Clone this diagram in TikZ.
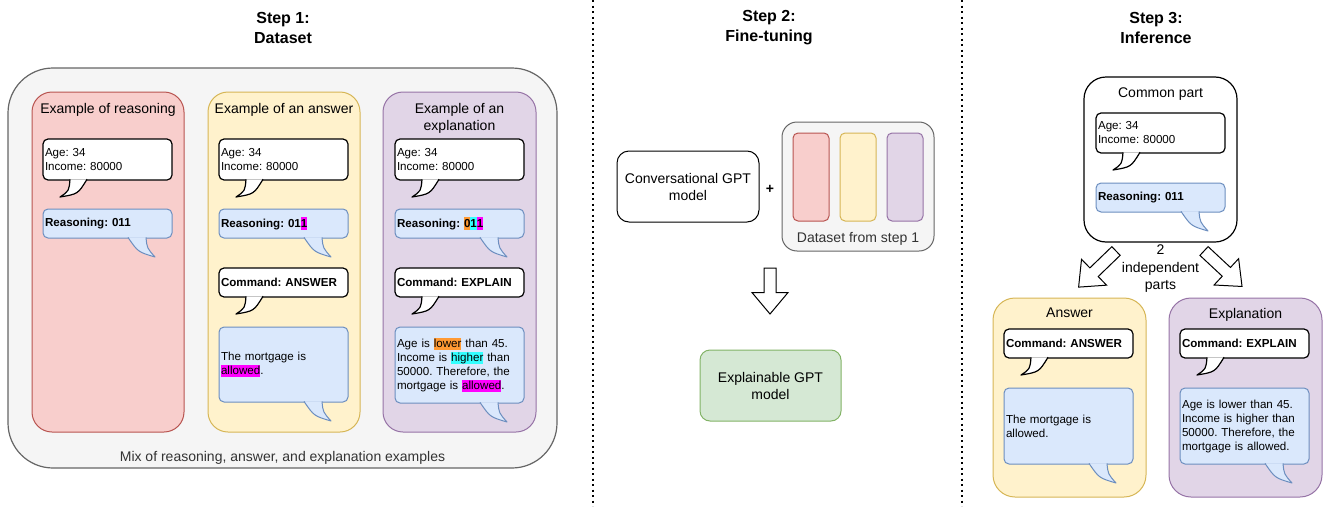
\documentclass[tikz,border=0pt]{standalone}
\usepackage{fontspec}
\setmainfont{Liberation Sans}
\usepackage{tikz}
\usetikzlibrary{positioning}
\usetikzlibrary{shapes.arrows}
\frenchspacing

\definecolor{rfill}{HTML}{F8CECC}
\definecolor{rline}{HTML}{B85450}
\definecolor{yfill}{HTML}{FFF2CC}
\definecolor{yline}{HTML}{D6B656}
\definecolor{pfill}{HTML}{E1D5E7}
\definecolor{pline}{HTML}{9673A6}
\definecolor{bfill}{HTML}{DAE8FC}
\definecolor{bline}{HTML}{6C8EBF}
\definecolor{gfill}{HTML}{D5E8D4}
\definecolor{gline}{HTML}{82B366}
\definecolor{grfill}{HTML}{F5F5F5}
\definecolor{grline}{HTML}{666666}
\definecolor{grtxt}{HTML}{333333}
\definecolor{hlo}{HTML}{FF9933}
\definecolor{hlc}{HTML}{33FFFF}
\definecolor{hlm}{HTML}{FF00FF}

\newcommand\smallf{\fontsize{11.6}{14}\selectfont}
\newcommand\midf{\fontsize{14}{17}\selectfont}
\newcommand\stepf{\fontsize{16}{20}\selectfont\bfseries}
\newcommand\hlt[2]{{\setlength\fboxsep{0pt}\colorbox{#1}{\rule[-2.8pt]{0pt}{12.6pt}#2}}}

% speech bubble tails: white ones point down-left, blue ones down-right
\newcommand\tailL[1]{%
  \path[fill=white, draw=black, line width=1.2pt, line join=round]
    ([shift={(27,-0.7)}]#1.south west)
    .. controls ([shift={(26,11)}]#1.south west) .. ([shift={(17,17)}]#1.south west)
    .. controls ([shift={(35,14)}]#1.south west) .. ([shift={(44,-0.7)}]#1.south west);}
\newcommand\tailR[1]{%
  \path[fill=bfill, draw=bline, line width=1pt, line join=round]
    ([shift={(-44,-0.6)}]#1.south east)
    .. controls ([shift={(-34,14)}]#1.south east) .. ([shift={(-17,19)}]#1.south east)
    .. controls ([shift={(-25,10)}]#1.south east) .. ([shift={(-26,-0.6)}]#1.south east);}

\begin{document}
\begin{tikzpicture}[x=1pt, y=-1pt, font=\midf, inner sep=0pt, outer sep=0pt,
  panel/.style={draw=#1line, fill=#1fill, line width=1pt, rounded corners=20pt,
                minimum width=152pt, minimum height=340pt},
  bub/.style={draw=black, fill=white, line width=1.2pt, rounded corners=5pt,
              text width=125pt, inner xsep=2pt, align=left, font=\smallf, minimum height=#1},
  bbub/.style={bub=#1, draw=bline, fill=bfill, line width=1pt},
  model/.style={draw=black, fill=white, line width=1pt, rounded corners=12pt,
                align=center, minimum width=142pt, minimum height=71pt},
  bigarrow/.style={single arrow, draw=black, fill=white, line width=1pt, inner sep=5.5pt,
                   minimum height=#1, single arrow head extend=12pt,
                   single arrow tip angle=80, anchor=tail},
  sep/.style={line width=2pt, dash pattern=on 2pt off 3.5pt}]
\useasboundingbox (0,0) rectangle (1330,506);

% separators
\draw[sep] (593,0) -- (593,506);
\draw[sep] (962,0) -- (962,506);

% step 1
\node[font=\stepf, align=center] (s1) at (283,28) {Step 1:\\Dataset};
\node[draw=grline, fill=grfill, line width=1.2pt, rounded corners=45pt,
      minimum width=549pt, minimum height=400pt] (ds) at (282.5,268) {};
\node[text=grtxt, above=3.5pt of ds.south] (ds_cap) {Mix of reasoning, answer, and explanation examples};

\node[panel=r] (r_box) at (108,262) {};
\node[below=11pt of r_box.north] (r_title) {Example of reasoning};
\node[bub=41pt, anchor=north west] (r_age) at (43,139) {Age: 34\\Income: 80000};
\tailL{r_age}
\node[bbub=29pt, below=29pt of r_age] (r_reas) {\textbf{Reasoning: 011}};
\tailR{r_reas}

\node[panel=y] (y_box) at (284,262) {};
\node[below=11pt of y_box.north] (y_title) {Example of an answer};
\node[bub=41pt, anchor=north west] (y_age) at (219,139) {Age: 34\\Income: 80000};
\tailL{y_age}
\node[bbub=29pt, below=29pt of y_age] (y_reas) {\textbf{Reasoning: 01\hlt{hlm}{1}}};
\tailR{y_reas}
\node[bub=29pt, below=30pt of y_reas] (y_cmd) {\textbf{Command: ANSWER}};
\tailL{y_cmd}
\node[bbub=75pt, below=30pt of y_cmd] (y_ans) {The mortgage is\\\hlt{hlm}{allowed}.};
\tailR{y_ans}

\node[panel=p, minimum width=153pt] (p_box) at (459.5,262) {};
\node[below=11pt of p_box.north, align=center] (p_title) {Example of an\\explanation};
\node[bub=41pt, anchor=north west] (p_age) at (395,139) {Age: 34\\Income: 80000};
\tailL{p_age}
\node[bbub=29pt, below=29pt of p_age] (p_reas) {\textbf{Reasoning: \hlt{hlo}{0}\hlt{hlc}{1}\hlt{hlm}{1}}};
\tailR{p_reas}
\node[bub=29pt, below=30pt of p_reas] (p_cmd) {\textbf{Command: EXPLAIN}};
\tailL{p_cmd}
\node[bbub=76pt, below=30pt of p_cmd] (p_expl) {Age is \hlt{hlo}{lower} than 45.\\Income is \hlt{hlc}{higher} than\\50000. Therefore, the\\mortgage is \hlt{hlm}{allowed}.};
\tailR{p_expl}

% step 2
\node[font=\stepf, align=center] (s2) at (769,28) {Step 2:\\Fine-tuning};
\node[model] (conv) at (688,186.5) {Conversational GPT\\model};
\node[font=\midf\bfseries] (plus) at (770,189) {+};
\node[draw=grline, fill=grfill, line width=1pt, rounded corners=15pt,
      minimum width=152pt, minimum height=129pt] (dset) at (858,186.5) {};
\node[panel=r, rounded corners=5pt, minimum width=36pt, minimum height=88pt] (d_r) at (811,177) {};
\node[panel=y, rounded corners=5pt, minimum width=36pt, minimum height=88pt, right=11pt of d_r] (d_y) {};
\node[panel=p, rounded corners=5pt, minimum width=36pt, minimum height=88pt, right=11pt of d_y] (d_p) {};
\node[text=grtxt, above=6pt of dset.south] (dset_cap) {Dataset from step 1};
\node[bigarrow=46pt, rotate=-90] (down) at (770,268) {};
\node[model, draw=gline, fill=gfill, rounded corners=10pt, minimum width=141pt] (xgpt) at (770.5,385.5) {Explainable GPT\\model};

% step 3
\node[font=\stepf, align=center] (s3) at (1156,28) {Step 3:\\Inference};
\node[draw=black, fill=white, line width=1.2pt, rounded corners=22pt,
      minimum width=153pt, minimum height=165pt] (c_box) at (1160.5,159.5) {};
\node[below=11pt of c_box.north] (c_title) {Common part};
\node[bub=40pt, anchor=north west] (c_age) at (1096,113) {Age: 34\\Income: 80000};
\tailL{c_age}
\node[bbub=29pt, below=30pt of c_age] (c_reas) {\textbf{Reasoning: 011}};
\tailR{c_reas}
\node[align=center, font=\fontsize{14}{17.5}\selectfont, below=3pt of c_box.south] (split) {2\\independent\\parts};
\node[bigarrow=52pt, rotate=224] (to_a) at (1116,251) {};
\node[bigarrow=52pt, rotate=-43] (to_e) at (1204,251) {};

\node[panel=y, rounded corners=22pt, minimum width=153pt, minimum height=199pt] (a_box) at (1069.5,397.5) {};
\node[below=10pt of a_box.north] (a_title) {Answer};
\node[bub=29pt, anchor=north west] (a_cmd) at (1004,329) {\textbf{Command: ANSWER}};
\tailL{a_cmd}
\node[bbub=76pt, below=30pt of a_cmd] (a_ans) {The mortgage is\\allowed.};
\tailR{a_ans}

\node[panel=p, rounded corners=22pt, minimum width=153pt, minimum height=199pt] (e_box) at (1245.5,397.5) {};
\node[below=10pt of e_box.north] (e_title) {Explanation};
\node[bub=29pt, anchor=north west] (e_cmd) at (1180,329) {\textbf{Command: EXPLAIN}};
\tailL{e_cmd}
\node[bbub=76pt, below=30pt of e_cmd] (e_expl) {Age is lower than 45.\\Income is higher than\\50000. Therefore, the\\mortgage is allowed.};
\tailR{e_expl}
\end{tikzpicture}
\end{document}
